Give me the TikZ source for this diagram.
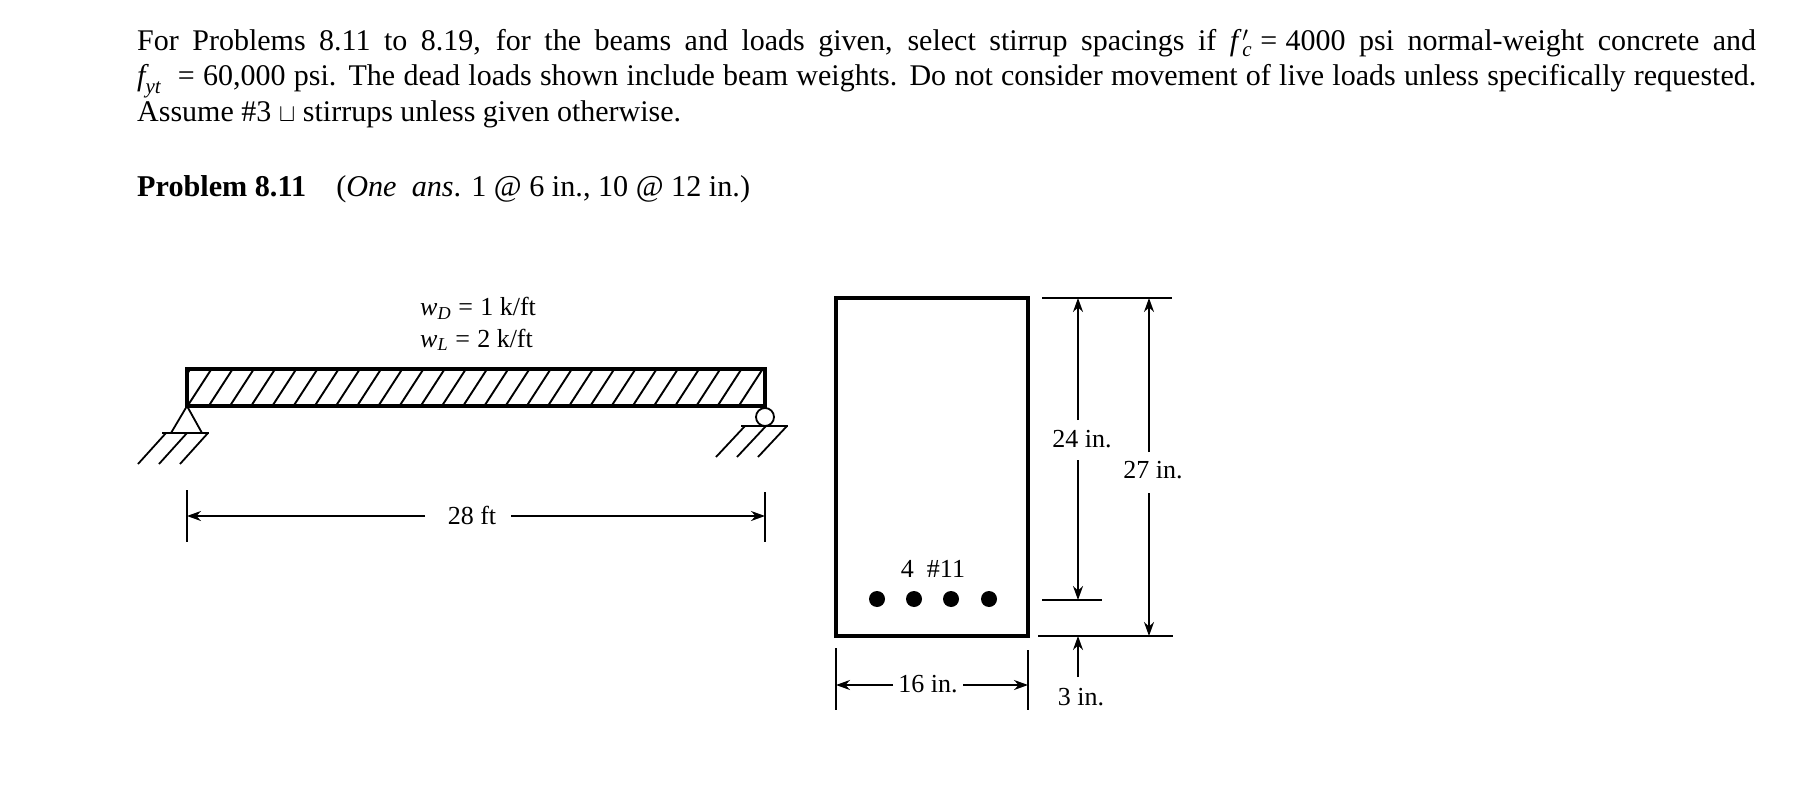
\documentclass[tikz,border=0pt]{standalone}
\usepackage{amsmath}
\usepackage{fontspec}
\setmainfont{Liberation Serif}
\usepackage{tikz}
\usetikzlibrary{arrows.meta}

\tikzset{
  lbl/.style={inner sep=0pt,font=\fontsize{26}{30}\selectfont},
  dimline/.style={line width=1.8pt,-{Stealth[length=14pt,width=10pt]}},
  thinline/.style={line width=1.8pt},
  heavy/.style={line width=3.8pt},
  hatchline/.style={line width=1.9pt}
}

\begin{document}
\begin{tikzpicture}[x=1pt,y=-1pt]
  \useasboundingbox (0,0) rectangle (1796,794);
  \node (intro) [anchor=north west,inner sep=0pt,text width=1619pt,align=justify,
    font=\fontsize{30}{35.5}\selectfont] at (137,29)
    {For Problems 8.11 to 8.19, for the beams and loads given, select stirrup spacings if \mbox{$\textit{f}\,'_{\textit{c}}$\;=\;4000} psi normal-weight concrete and\linebreak
    \mbox{$\textit{f}_{\textit{yt}}$\;\;=\;60,000} psi. The dead loads shown include beam weights. Do not consider movement of live loads unless specifically requested.\linebreak
    Assume \#3 $\sqcup$ stirrups unless given otherwise.\hfill\null};
  \node (prob) [anchor=base west,inner sep=0pt,font=\fontsize{30.2}{33}\selectfont] at (137,197)
    {\textbf{Problem 8.11}\quad (\textit{One\ \ ans}. 1 @ 6 in., 10 @ 12 in.)};

  % beam
  \coordinate (bTL) at (187,369);
  \coordinate (bBR) at (765,406);
  \begin{scope}
    \clip (bTL) rectangle (bBR);
    \foreach \i in {0,...,27}
      \draw[hatchline] (190.3+21.2*\i,369) -- (166.3+21.2*\i,406);
  \end{scope}
  \draw[heavy] (bTL) rectangle (bBR);
  \node (wd) [lbl,anchor=base west] at (420,316) {$\textit{w}_{\textit{D}}$\;=\;1 k/ft};
  \node (wl) [lbl,anchor=base west] at (420,347) {$\textit{w}_{\textit{L}}$\;=\;2 k/ft};

  % left support
  \coordinate (pinTop) at (187,406);
  \draw[thinline] (pinTop) -- (171,433) -- (202,433) -- cycle;
  \draw[thinline] (162,433) -- (209,433);
  \foreach \x in {0,1,2}
    \draw[thinline] (166+21*\x,433) -- (138+21*\x,464);

  % right support
  \node (roller) [draw,circle,thinline,minimum size=18pt,inner sep=0pt] at (765,417) {};
  \draw[thinline] (741,426) -- (788,426);
  \foreach \x in {0,1,2}
    \draw[thinline] (745+21*\x,426) -- (716+21*\x,457);

  % span
  \coordinate (spanL) at (187,516);
  \coordinate (spanR) at (765,516);
  \draw[thinline] (187,490) -- (187,542);
  \draw[thinline] (765,492) -- (765,542);
  \node (span) [lbl] at (472,515) {28 ft};
  \draw[dimline] (425,516) -- (spanL);
  \draw[dimline] (511,516) -- (spanR);

  % section
  \draw[heavy] (836,298) rectangle (1028,636);
  \node (bars) [lbl] at (933,569) {4\ \ \#11};
  \foreach \x [count=\n] in {877,914,951,989}
    \node (bar\n) [circle,fill=black,minimum size=16pt,inner sep=0pt] at (\x,599) {};

  % section dimensions
  \coordinate (topA) at (1078,298);
  \coordinate (topB) at (1149,298);
  \coordinate (effA) at (1078,600);
  \coordinate (botA) at (1078,636);
  \coordinate (botB) at (1149,636);
  \draw[thinline] (1042,298) -- (1172,298);
  \draw[thinline] (1042,600) -- (1102,600);
  \draw[thinline] (1038,636) -- (1173,636);
  \node (d24) [lbl] at (1082,439) {24 in.};
  \node (d27) [lbl] at (1153,470) {27 in.};
  \node (d3) [lbl] at (1081,697) {3 in.};
  \draw[dimline] (1078,420) -- (topA);
  \draw[dimline] (1078,460) -- (effA);
  \draw[dimline] (1149,452) -- (topB);
  \draw[dimline] (1149,493) -- (botB);
  \draw[dimline] (1078,677) -- (botA);

  \draw[thinline] (836,648) -- (836,710);
  \draw[thinline] (1028,650) -- (1028,710);
  \node (d16) [lbl] at (928,684) {16 in.};
  \coordinate (widL) at (836,685);
  \coordinate (widR) at (1028,685);
  \draw[dimline] (893,685) -- (widL);
  \draw[dimline] (963,685) -- (widR);
\end{tikzpicture}
\end{document}
